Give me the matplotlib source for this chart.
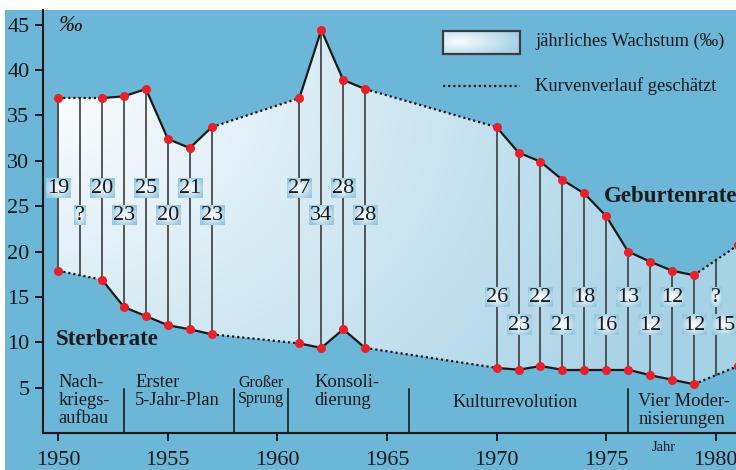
import numpy as np
import matplotlib.pyplot as plt
from matplotlib.patches import Polygon, Rectangle
from matplotlib.colors import to_rgb

plt.rcParams['font.family'] = ['Liberation Serif', 'DejaVu Serif']

# Geburtenrate / Sterberate in Promille
years = [1950, 1952, 1953, 1954, 1955, 1956, 1957, 1961, 1962, 1963, 1964,
         1970, 1971, 1972, 1973, 1974, 1975, 1976, 1977, 1978, 1979, 1981]
birth = [36.9, 36.9, 37.1, 37.9, 32.4, 31.4, 33.7, 36.9, 44.4, 38.9, 37.9,
         33.7, 30.9, 29.9, 27.9, 26.4, 23.9, 20.0, 18.9, 17.9, 17.4, 20.7]
death = [17.9, 16.9, 13.9, 12.9, 11.9, 11.45, 10.9, 9.9, 9.4, 11.45, 9.4,
         7.2, 7.0, 7.4, 7.0, 7.0, 7.0, 7.0, 6.4, 5.9, 5.4, 7.4]

# jährliches Wachstum
growth_years = [1950, 1951, 1952, 1953, 1954, 1955, 1956, 1957,
                1961, 1962, 1963, 1964,
                1970, 1971, 1972, 1973, 1974, 1975, 1976, 1977, 1978, 1979, 1980, 1981]
growth_labels = ['19', '?', '20', '23', '25', '20', '21', '23',
                 '27', '34', '28', '28',
                 '26', '23', '22', '21', '18', '16', '13', '12', '12', '12', '?', '15']

era_names = ['Nach-\nkriegs-\naufbau', 'Erster\n5-Jahr-Plan', 'Großer\nSprung',
             'Konsoli-\ndierung', 'Kulturrevolution', 'Vier Moder-\nnisierungen']
era_bounds = [1953, 1958, 1960.5, 1966, 1976]
xticks = [1950, 1955, 1960, 1965, 1970, 1975, 1980]
yticks = [5, 10, 15, 20, 25, 30, 35, 40, 45]

BG = '#6cb6d7'
EDGE = np.array(to_rgb('#a6d2e6'))
BOX_EDGE = np.array(to_rgb('#96c8e0'))
WHITE = np.array(to_rgb('#fafcfe'))
RED = '#e8202a'
INK = '#1a1a1a'


def radial(nx, ny, edge, cx=0.5, cy=0.5, scale=1.0, power=1.3):
    x = np.linspace(0, 1, nx)
    y = np.linspace(0, 1, ny)
    X, Y = np.meshgrid(x, y)
    dd = np.sqrt(((X - cx) / 0.5) ** 2 + ((Y - cy) / 0.5) ** 2) / scale
    t = np.clip(dd, 0, 1) ** power
    return WHITE[None, None, :] * (1 - t[..., None]) + edge[None, None, :] * t[..., None]


fig = plt.figure(figsize=(7.36, 4.70), dpi=100, facecolor='white')
fig.patches.append(Rectangle((5 / 736, 0), 1, 460 / 470, transform=fig.transFigure,
                             facecolor=BG, edgecolor='none', zorder=-10))
ax = fig.add_axes([42.7 / 736, 1 - 433.3 / 470, 1 - 42.7 / 736, 423.3 / 470])
ax.set_facecolor('none')
XL = (1949.29, 1980.92)
YL = (0, 46.6)

# gradient fill between the two curves
yrs = np.array(years, float)
b = np.array(birth)
d = np.array(death)
poly = Polygon(np.vstack([np.column_stack([yrs, b]), np.column_stack([yrs[::-1], d[::-1]])]),
               facecolor='none', edgecolor='none')
ax.add_patch(poly)
gx = np.linspace(XL[0], XL[1], 400)
gy = np.linspace(YL[0], YL[1], 300)
GX, GY = np.meshgrid(gx, gy)
t = np.clip(np.sqrt(((GX - 1950) / 31) ** 2 + ((37 - GY) / 60) ** 2), 0, 1)
img = WHITE[None, None, :] * (1 - t[..., None]) + EDGE[None, None, :] * t[..., None]
im = ax.imshow(img, extent=(XL[0], XL[1], YL[0], YL[1]), origin='lower',
               aspect='auto', zorder=1, interpolation='bilinear')
im.set_clip_path(poly)

# vertical lines
for gyr in growth_years:
    lo = np.interp(gyr, yrs, d)
    hi = np.interp(gyr, yrs, b)
    ax.plot([gyr, gyr], [lo, hi], color='#3c3c3c', lw=1.2, zorder=2)

# curves: solid for consecutive years, dotted when estimated
for series in (b, d):
    for i in range(len(yrs) - 1):
        ls = '-' if yrs[i + 1] - yrs[i] == 1 else (0, (1, 1.3))
        ax.plot(yrs[i:i + 2], series[i:i + 2], color=INK, lw=1.6, ls=ls, zorder=5,
                solid_capstyle='round')
    ax.plot(yrs, series, 'o', color=RED, ms=5.5, zorder=6)

# growth labels
texts = []
for i, (gyr, lab) in enumerate(zip(growth_years, growth_labels)):
    base = 27.0 if gyr < 1966 else 14.9
    yy = base if i % 2 == 0 else base - 3.0
    xx = min(gyr, 1980.4)
    texts.append(ax.text(xx, yy, lab, fontsize=16, ha='center', va='center',
                         color=INK, zorder=4))

# era separators and labels
for xb in era_bounds:
    ax.plot([xb, xb], [0, 4.9], color=INK, lw=1.2, zorder=3)
era_x = [1950.0, 1953.5, 1958.2, 1961.7, 1968.0, 1976.47]
for name, ex in zip(era_names, era_x):
    if name.startswith('Kultur'):
        ax.text(ex, 3.4, name, fontsize=13.3, ha='left', va='center', color=INK)
    elif name.startswith('Großer'):
        ax.text(ex, 6.4, name, fontsize=11.5, ha='left', va='top', color=INK,
                linespacing=1.0)
    elif name.startswith('Vier'):
        ax.text(ex, 4.45, name, fontsize=13.3, ha='left', va='top', color=INK,
                linespacing=1.05)
    else:
        ax.text(ex, 6.5, name, fontsize=13.3, ha='left', va='top', color=INK,
                linespacing=1.05)

ax.text(1949.9, 10.3, 'Sterberate', fontsize=16.5, fontweight='bold', ha='left',
        va='center', color=INK, zorder=7)
ax.text(1974.87, 26.1, 'Geburtenrate', fontsize=16.5, fontweight='bold', ha='left',
        va='center', color=INK, zorder=7)
ax.text(1950.0, 44.9, '‰', fontsize=17, style='italic', ha='left', va='center',
        color=INK)
ax.text(1977.08, -1.6, 'Jahr', fontsize=10.5, ha='left', va='center', color=INK,
        clip_on=False)

# legend
ax.imshow(radial(80, 30, EDGE, cx=0.2, cy=0.55, scale=1.6, power=1.0),
          extent=(1967.55, 1971.05, 41.8, 44.3), origin='lower', aspect='auto',
          zorder=3)
ax.add_patch(Rectangle((1967.55, 41.8), 3.5, 2.5, facecolor='none', edgecolor='#3c3c3c',
                       lw=1.6, zorder=4))
ax.text(1971.75, 43.1, 'jährliches Wachstum (‰)', fontsize=13.3, ha='left', va='center',
        color=INK)
ax.plot([1967.55, 1971.05], [38.25, 38.25], color=INK, lw=1.6, ls=(0, (1, 1.3)))
ax.text(1971.75, 38.25, 'Kurvenverlauf geschätzt', fontsize=13.3, ha='left',
        va='center', color=INK)

# axes styling
ax.set_xlim(*XL)
ax.set_ylim(*YL)
ax.set_xticks(xticks)
ax.set_yticks(yticks)
for s in ('top', 'right'):
    ax.spines[s].set_visible(False)
for s in ('left', 'bottom'):
    ax.spines[s].set_linewidth(1.5)
    ax.spines[s].set_color(INK)
ax.tick_params(axis='both', direction='out', length=5.5, width=1.4, labelsize=16,
               colors=INK)
ax.tick_params(axis='x', pad=7.5)
ax.tick_params(axis='y', pad=4)

# gradient boxes behind the growth labels
fig.canvas.draw()
r = fig.canvas.get_renderer()
inv = ax.transData.inverted()
for txt in texts:
    bb = txt.get_window_extent(r)
    (x0, y0), (x1, y1) = inv.transform([(bb.x0 - 1, bb.y0), (bb.x1 + 1, bb.y1 + 1)])
    ax.imshow(radial(30, 30, BOX_EDGE, scale=1.2, power=1.3), extent=(x0, x1, y0, y1),
              origin='lower', aspect='auto', zorder=3)
ax.set_xlim(*XL)
ax.set_ylim(*YL)

fig.savefig('out.png', dpi=100, facecolor='white')
